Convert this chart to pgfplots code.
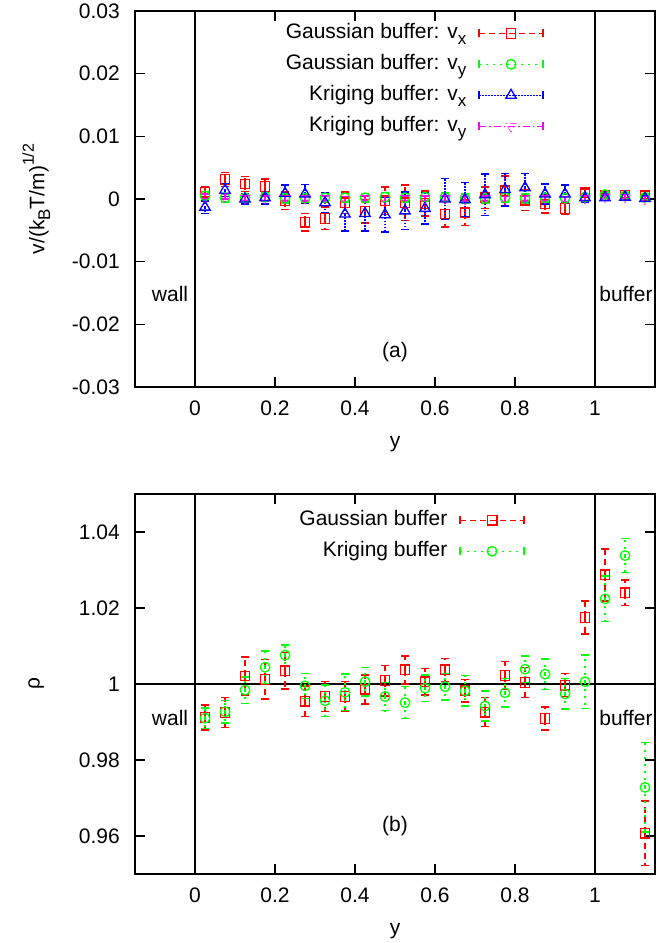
\documentclass[border=0pt]{standalone}
\usepackage{pgfplots}
\pgfplotsset{compat=1.18}
\usepackage{pgfplotstable}
\usepackage{fontspec}
\setmainfont{Liberation Sans}
\definecolor{gred}{rgb}{1,0,0}
\definecolor{ggreen}{rgb}{0,1,0}
\definecolor{gblue}{rgb}{0,0,1}
\definecolor{gmag}{rgb}{1,0,1}
\newcommand{\gpsub}[1]{\raisebox{-0.28em}{\fontsize{17bp}{17bp}\selectfont #1}}
\newcommand{\gpsup}[1]{\raisebox{0.5em}{\fontsize{16bp}{16bp}\selectfont #1}}

\pgfplotstableread{
x y e
0.025 0.0011 0.0008
0.075 0.0031 0.0011
0.125 0.0024 0.0012
0.175 0.0020 0.0012
0.225 -0.0003 0.0014
0.275 -0.0037 0.0014
0.325 -0.0031 0.0018
0.375 -0.0006 0.0017
0.425 -0.0020 0.0018
0.475 -0.0003 0.0022
0.525 -0.0006 0.0028
0.575 -0.0007 0.0020
0.625 -0.0024 0.0021
0.675 -0.0022 0.0020
0.725 0.0002 0.0017
0.775 0.0013 0.0024
0.825 -0.0002 0.0016
0.875 -0.0008 0.0014
0.925 -0.0015 0.0010
0.975 0.0010 0.0006
1.025 0.0005 0.0004
1.075 0.0006 0.0004
1.125 0.0005 0.0004
}\gvx
\pgfplotstableread{
x y e
0.025 0.0005 0.0007
0.075 0.0002 0.0007
0.125 0.0002 0.0007
0.175 0.0003 0.0007
0.225 0.0001 0.0007
0.275 0.0001 0.0007
0.325 0.0002 0.0007
0.375 0.0002 0.0007
0.425 0.0002 0.0007
0.475 0.0003 0.0007
0.525 0.0002 0.0007
0.575 0.0003 0.0007
0.625 0.0003 0.0007
0.675 0.0001 0.0007
0.725 0.0001 0.0007
0.775 0.0002 0.0007
0.825 0.0001 0.0007
0.875 0.0002 0.0007
0.925 0.0001 0.0007
0.975 0.0003 0.0006
1.025 0.0007 0.0004
1.075 0.0005 0.0004
1.125 0.0003 0.0004
}\gvy
\pgfplotstableread{
x y e
0.025 -0.0013 0.0010
0.075 0.0014 0.0010
0.125 0.0000 0.0008
0.175 0.0002 0.0010
0.225 0.0009 0.0013
0.275 0.0008 0.0015
0.325 -0.0006 0.0016
0.375 -0.0024 0.0027
0.425 -0.0023 0.0028
0.475 -0.0025 0.0028
0.525 -0.0019 0.0030
0.575 -0.0015 0.0025
0.625 0.0000 0.0033
0.675 -0.0001 0.0027
0.725 0.0007 0.0033
0.775 0.0015 0.0026
0.825 0.0018 0.0023
0.875 0.0008 0.0016
0.925 0.0008 0.0014
0.975 0.0002 0.0007
1.025 0.0002 0.0004
1.075 0.0003 0.0004
1.125 0.0001 0.0004
}\kvx
\pgfplotstableread{
x y e
0.025 0.0004 0.0004
0.075 0.0004 0.0004
0.125 0.0001 0.0004
0.175 0.0001 0.0004
0.225 0.0001 0.0004
0.275 0.0001 0.0004
0.325 0.0001 0.0004
0.375 0.0000 0.0004
0.425 0.0001 0.0004
0.475 0.0000 0.0004
0.525 0.0001 0.0004
0.575 0.0001 0.0004
0.625 0.0001 0.0004
0.675 0.0000 0.0004
0.725 0.0001 0.0004
0.775 0.0000 0.0004
0.825 0.0001 0.0004
0.875 0.0001 0.0004
0.925 0.0000 0.0004
0.975 0.0001 0.0004
1.025 0.0003 0.0004
1.075 0.0003 0.0004
1.125 0.0000 0.0004
}\kvy
\pgfplotstableread{
x y e
0.025 0.9912 0.0033
0.075 0.9925 0.0040
0.125 1.0021 0.0050
0.175 1.0012 0.0052
0.225 1.0035 0.0048
0.275 0.9955 0.0040
0.325 0.9967 0.0040
0.375 0.9967 0.0040
0.425 0.9986 0.0038
0.475 1.0009 0.0040
0.525 1.0037 0.0037
0.575 1.0006 0.0035
0.625 1.0037 0.0030
0.675 0.9982 0.0030
0.725 0.9926 0.0038
0.775 1.0022 0.0037
0.825 1.0004 0.0040
0.875 0.9909 0.0030
0.925 0.9997 0.0030
0.975 1.0175 0.0043
1.025 1.0287 0.0068
1.075 1.0240 0.0034
1.125 0.9607 0.0085
}\grho
\pgfplotstableread{
x y e
0.025 0.9910 0.0027
0.075 0.9927 0.0030
0.125 0.9984 0.0035
0.175 1.0044 0.0043
0.225 1.0076 0.0027
0.275 0.9995 0.0033
0.325 0.9956 0.0042
0.375 0.9978 0.0048
0.425 1.0006 0.0038
0.475 0.9967 0.0037
0.525 0.9951 0.0042
0.575 0.9989 0.0035
0.625 0.9993 0.0035
0.675 0.9982 0.0040
0.725 0.9942 0.0040
0.775 0.9977 0.0037
0.825 1.0039 0.0035
0.875 1.0026 0.0040
0.925 0.9974 0.0040
0.975 1.0006 0.0070
1.025 1.0224 0.0060
1.075 1.0338 0.0045
1.125 0.9728 0.0118
}\krho

\pgfplotsset{
  gpaxis/.style={
    scale only axis, width=520bp,
    xmin=-0.15, xmax=1.15,
    axis line style={line width=1.4bp},
    tick align=inside, major tick length=10bp,
    every tick/.style={black, line width=1.1bp},
    xtick={0,0.2,0.4,0.6,0.8,1},
    xticklabels={0,0.2,0.4,0.6,0.8,1},
    xticklabel style={anchor=north, inner sep=0pt, yshift=-14bp},
    yticklabel style={anchor=east, inner sep=0pt, xshift=-15bp},
    every axis x label/.style={at={(axis description cs:0.5,0)}, anchor=center, yshift=-57bp},
    every axis y label/.style={at={(axis description cs:-0.19,0.5)}, anchor=center, rotate=90},
    legend cell align=right, legend plot pos=right,
    legend style={draw=none, fill=none, anchor=north east, row sep=10bp, column sep=12bp,
      inner sep=0pt,
      nodes={inner sep=0pt, text height=16bp, text depth=5bp}},
    legend image code/.code={
      \draw[##1, mark=none, line width=1.5bp] (0bp,0bp) -- (64bp,0bp);
      \draw[##1, mark=none, solid, line width=1.5bp] (0bp,-4bp) -- (0bp,4bp) (64bp,-4bp) -- (64bp,4bp);
      \draw[##1, only marks] plot coordinates {(32bp,0bp)};
    },
    error bars/y dir=both, error bars/y explicit,
  },
  gp/.style n args={4}{color=#1, #2, only marks, mark=#3, mark size=#4,
      mark options={solid, line width=1.3bp, fill=none, draw=#1},
      error bars/error bar style={draw=#1, color=#1, #2, line width=1.5bp},
      error bars/error mark options={rotate=90, draw=#1, color=#1, solid, line width=1.5bp, mark size=4bp}},
}

\begin{document}
\fontsize{21bp}{25bp}\selectfont
\begin{tikzpicture}
\useasboundingbox (0,0) rectangle (661bp,943bp);
\begin{axis}[gpaxis, at={(135bp,556bp)}, anchor=south west, height=376bp,
  ymin=-0.03, ymax=0.03,
  ytick={-0.03,-0.02,-0.01,0,0.01,0.02,0.03},
  yticklabels={-0.03,-0.02,-0.01,0,0.01,0.02,0.03},
  xlabel={y}, ylabel={v/(k\gpsub{B}T/m)\gpsup{1/2}},
  legend style={at={(axis description cs:0.7865,0.969)}},
]
\draw[line width=1.4bp] (axis cs:0,-0.03) -- (axis cs:0,0.03);
\draw[line width=1.4bp] (axis cs:1,-0.03) -- (axis cs:1,0.03);
\addplot[gp={gred}{dash pattern=on 6bp off 4bp}{square}{4.8bp}] table[x=x,y=y,y error=e] {\gvx};
\addlegendentry{Gaussian buffer: v\gpsub{x}}
\addplot[gp={ggreen}{dash pattern=on 2bp off 5bp}{o}{4.8bp}] table[x=x,y=y,y error=e] {\gvy};
\addlegendentry{Gaussian buffer: v\gpsub{y}}
\addplot[gp={gblue}{dash pattern=on 1.5bp off 1.5bp}{triangle}{6bp}] table[x=x,y=y,y error=e] {\kvx};
\addlegendentry{Kriging buffer: v\gpsub{x}}
\addplot[gp={gmag}{dash pattern=on 7bp off 3bp on 1.5bp off 3bp}{triangle}{6bp}, mark options={rotate=180}] table[x=x,y=y,y error=e] {\kvy};
\addlegendentry{Kriging buffer: v\gpsub{y}}
\node at (axis cs:-0.0625,-0.0151) {wall};
\node at (axis cs:1.0775,-0.0151) {buffer};
\node at (axis cs:0.5,-0.0244) {(a)};
\end{axis}

\begin{axis}[gpaxis, at={(135bp,69bp)}, anchor=south west, height=380bp,
  ymin=0.95, ymax=1.05,
  ytick={0.96,0.98,1,1.02,1.04},
  yticklabels={0.96,0.98,1,1.02,1.04},
  xlabel={y}, ylabel={ρ},
  legend style={at={(axis description cs:0.75,0.959)}},
]
\draw[line width=1.4bp] (axis cs:0,0.95) -- (axis cs:0,1.05);
\draw[line width=1.4bp] (axis cs:1,0.95) -- (axis cs:1,1.05);
\draw[line width=1.4bp] (axis cs:-0.15,1) -- (axis cs:1.15,1);
\addplot[gp={gred}{dash pattern=on 6bp off 4bp}{square}{4.8bp}] table[x=x,y=y,y error=e] {\grho};
\addlegendentry{Gaussian buffer}
\addplot[gp={ggreen}{dash pattern=on 2bp off 5bp}{o}{4.8bp}] table[x=x,y=y,y error=e] {\krho};
\addlegendentry{Kriging buffer}
\node at (axis cs:-0.0625,0.991) {wall};
\node at (axis cs:1.0775,0.991) {buffer};
\node at (axis cs:0.5,0.9626) {(b)};
\end{axis}
\end{tikzpicture}
\end{document}
